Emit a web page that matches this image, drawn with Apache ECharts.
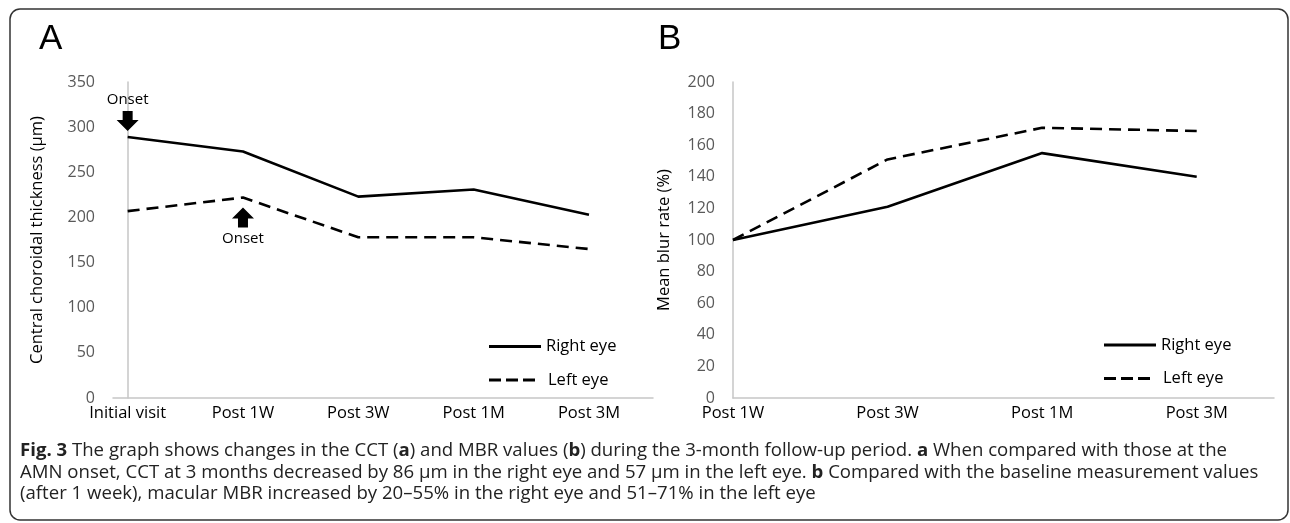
<!DOCTYPE html>
<html>
<head>
<meta charset="utf-8">
<script src="https://cdn.jsdelivr.net/npm/echarts@6/dist/echarts.min.js"></script>
<style>
html,body{margin:0;padding:0;background:#fff;}
#chart{width:1290px;height:523px;}
</style>
</head>
<body>
<div id="chart"></div>
<script>
// ---- Data ----
var categoriesA = ['Initial visit', 'Post 1W', 'Post 3W', 'Post 1M', 'Post 3M'];
var rightEyeCCT = [289, 273, 223, 231, 203];
var leftEyeCCT  = [207, 222, 178, 178, 165];

var categoriesB = ['Post 1W', 'Post 3W', 'Post 1M', 'Post 3M'];
var rightEyeMBR = [100, 121, 155, 140];
var leftEyeMBR  = [100, 151, 171, 169];

var seriesNames = ['Right eye', 'Left eye'];
var yTitleA = 'Central choroidal thickness (\u00b5m)';
var yTitleB = 'Mean blur rate (%)';
var onsetText = 'Onset';
var captionText = '{b|Fig. 3} The graph shows changes in the CCT ({b|a}) and MBR values ({b|b}) during the 3-month follow-up period. {b|a} When compared with those at the\n' +
  'AMN onset, CCT at 3 months decreased by 86 \u00b5m in the right eye and 57 \u00b5m in the left eye. {b|b} Compared with the baseline measurement values\n' +
  '(after 1 week), macular MBR increased by 20\u201355% in the right eye and 51\u201371% in the left eye';

// ---- Helpers ----
function pairs(arr) { return arr.map(function (v, i) { return [i, v]; }); }
function idx(arr) { return arr.map(function (v, i) { return i; }); }

var FONT = 'Open Sans';
var DOWN_ARROW = 'path://M6,0 L16,0 L16,9 L22,9 L11,20 L0,9 L6,9 Z';
var UP_ARROW = 'path://M11,0 L22,11 L16,11 L16,20 L6,20 L6,11 L0,11 Z';
var SOLID_ICON = 'path://M0,0 L52,0 L52,3 L0,3 Z';
var DASH_ICON = 'path://M0,0 L12,0 L12,3 L0,3 Z M17,0 L29,0 L29,3 L17,3 Z M34,0 L46,0 L46,3 L34,3 Z';

function xAxisCfg(gridIndex, cats, min, max) {
  return {
    type: 'value', gridIndex: gridIndex, min: min, max: max,
    axisLine: { show: true, lineStyle: { color: '#c6c6c6', width: 1.5 } },
    axisTick: { show: false },
    splitLine: { show: false },
    axisLabel: {
      customValues: idx(cats),
      formatter: function (v) { return cats[Math.round(v)]; },
      color: '#000', fontFamily: FONT, fontSize: 16.5, margin: 7
    }
  };
}
function yAxisCfg(gridIndex, max, interval, name, nameGap) {
  return {
    type: 'value', gridIndex: gridIndex, min: 0, max: max, interval: interval,
    name: name, nameLocation: 'middle', nameGap: nameGap,
    nameTextStyle: { color: '#000', fontFamily: FONT, fontSize: 16.5 },
    axisLine: { show: true, lineStyle: { color: '#c6c6c6', width: 1.5 } },
    axisTick: { show: false },
    splitLine: { show: false },
    axisLabel: { color: '#595959', fontFamily: FONT, fontSize: 16, margin: 18 }
  };
}
function lineSeries(name, xi, data, dashed, markPoint) {
  var s = {
    name: name, type: 'line', xAxisIndex: xi, yAxisIndex: xi,
    data: pairs(data), symbol: 'none', silent: true,
    lineStyle: { color: '#000', width: 2.6, type: dashed ? [12, 7] : 'solid' },
    itemStyle: { color: '#000' }
  };
  if (markPoint) s.markPoint = markPoint;
  return s;
}
function legendCfg(name, icon, width, left, top, pad) {
  return {
    orient: 'vertical', left: left, top: top, itemWidth: width, itemHeight: 3,
    icon: icon, selectedMode: false,
    itemStyle: { color: '#000', borderWidth: 0 },
    lineStyle: { width: 0 },
    data: [name],
    textStyle: { color: '#000', fontFamily: FONT, fontSize: 16.5, padding: [0, 0, 0, pad] }
  };
}

var chart = echarts.init(document.getElementById('chart'), null, { renderer: 'canvas' });
var option = {
  backgroundColor: '#fff',
  animation: false,
  title: {
    text: captionText, left: 15, top: 435,
    textStyle: {
      fontFamily: FONT, fontSize: 18.6, fontWeight: 'normal', color: '#222', lineHeight: 21.5,
      rich: { b: { fontFamily: FONT, fontSize: 18.6, fontWeight: 'bold', color: '#222', lineHeight: 21.5 } }
    }
  },
  graphic: [
    { type: 'rect', shape: { x: 10, y: 9, width: 1278, height: 511, r: 10 }, style: { fill: 'none', stroke: '#333', lineWidth: 1.5 }, silent: true },
    { type: 'text', left: 39, top: 22, style: { text: 'A', fontFamily: 'Liberation Sans', fontSize: 35, fill: '#000' } },
    { type: 'text', left: 658, top: 22, style: { text: 'B', fontFamily: 'Liberation Sans', fontSize: 35, fill: '#000' } }
  ],
  legend: [
    legendCfg(seriesNames[0], SOLID_ICON, 52, 484, 333, 0),
    legendCfg(seriesNames[1], DASH_ICON, 46, 484, 366.5, 8),
    legendCfg(seriesNames[0], SOLID_ICON, 52, 1099, 331.5, 0),
    legendCfg(seriesNames[1], DASH_ICON, 46, 1099, 365, 8)
  ],
  grid: [
    { left: 113, top: 82, width: 540, height: 316, containLabel: false },
    { left: 733, top: 82, width: 541, height: 316, containLabel: false }
  ],
  xAxis: [xAxisCfg(0, categoriesA, -0.127, 4.555), xAxisCfg(1, categoriesB, 0, 3.5)],
  yAxis: [yAxisCfg(0, 350, 50, yTitleA, 67), yAxisCfg(1, 200, 20, yTitleB, 60)],
  series: [
    lineSeries(seriesNames[0], 0, rightEyeCCT, false, {
      silent: true,
      data: [{ coord: [0, rightEyeCCT[0]], symbol: DOWN_ARROW, symbolSize: [22, 20], symbolOffset: [0, -16],
        itemStyle: { color: '#000' },
        label: { show: true, formatter: onsetText, position: 'top', distance: 4, color: '#000', fontFamily: FONT, fontSize: 15 } }]
    }),
    lineSeries(seriesNames[1], 0, leftEyeCCT, true, {
      silent: true,
      data: [{ coord: [1, leftEyeCCT[1]], symbol: UP_ARROW, symbolSize: [22, 20], symbolOffset: [0, 20],
        itemStyle: { color: '#000' },
        label: { show: true, formatter: onsetText, position: 'bottom', distance: 4, color: '#000', fontFamily: FONT, fontSize: 15 } }]
    }),
    lineSeries(seriesNames[0], 1, rightEyeMBR, false),
    lineSeries(seriesNames[1], 1, leftEyeMBR, true)
  ]
};
chart.setOption(option);
</script>
</body>
</html>
